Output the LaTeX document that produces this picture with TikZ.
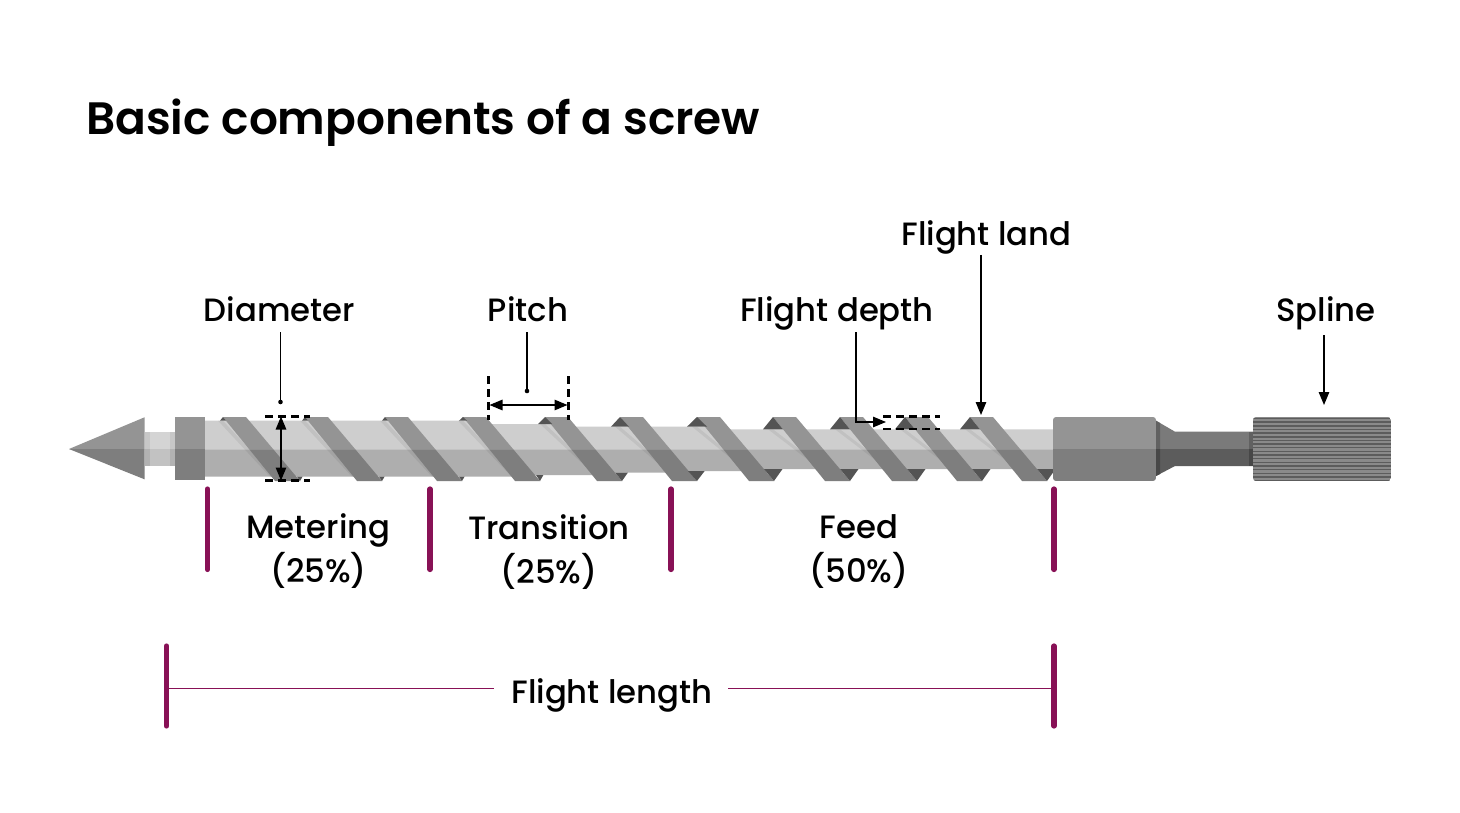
\documentclass[tikz,border=0pt]{standalone}
\usepackage{fontspec}
\setmainfont{Poppins Medium}
\newfontface\titlefont{Poppins SemiBold}
\usetikzlibrary{arrows.meta}
\definecolor{mag}{RGB}{136,17,86}
\definecolor{shU}{RGB}{206,206,206}
\definecolor{shL}{RGB}{174,174,174}
\definecolor{flU}{RGB}{148,148,148}
\definecolor{flL}{RGB}{126,126,126}
\definecolor{trD}{RGB}{84,84,84}
\tikzset{
 x=1pt,y=-1pt,
 lbl/.style={font=\fontsize{32.3}{44}\selectfont,align=center,inner sep=0pt,text=black},
 sl/.style={lbl,anchor=base},
 bar/.style={draw=mag,line width=5.2pt,line cap=round},
 thin mag/.style={draw=mag,line width=1.2pt},
 lead/.style={draw=black,line width=1.3pt},
 arr/.style={lead,-{Triangle[length=13pt,width=10.5pt]}},
 dbl/.style={lead,{Triangle[length=13pt,width=10.5pt]}-{Triangle[length=13pt,width=10.5pt]}},
 dash line/.style={draw=black,line width=2.2pt,dash pattern=on 8pt off 5pt},
}
\newcommand{\flight}[4]{% L, shaft top, shaft bottom, half base
 \fill[black,opacity=.06] (#1-5,#2)--(#1+47,#3)--(#1+52,#3)--(#1,#2)--cycle;
 \fill[flU] (#1,417)--(#1+23,417)--(#1+50.3,449.3)--(#1+26.3,449.3)--cycle;
 \fill[flL] (#1+26.3,449.3)--(#1+50.3,449.3)--(#1+77,481)--(#1+52,481)--cycle;
 \fill[trD] (#1-#4,#2)--(#1,417)--(#1+#4,#2)--cycle;
 \fill[trD] (#1+77-#4,#3)--(#1+77,481)--(#1+77+#4*0.85,#3)--cycle;
}
\begin{document}
\begin{tikzpicture}
\useasboundingbox (0,0) rectangle (1460,813);
\fill[white] (0,0) rectangle (1460,813);
% tip
\fill[flU] (69,449)--(144.5,417.3)--(144.5,449)--cycle;
\fill[flL] (69,449)--(144.5,479.3)--(144.5,449)--cycle;
\fill[black!22] (144.5,431.7) rectangle (175,449);
\fill[black!30] (144.5,449) rectangle (175,465.7);
\fill[black!17] (150,431.7) rectangle (170,449);
\fill[black!24] (150,449) rectangle (170,465.7);
\fill[flU] (175,417) rectangle (205,449);
\fill[flL] (175,449) rectangle (205,480);
% shaft (stepped, steps hidden behind the flights)
\fill[shU] (205,420.7)--(475,420.7)--(475,424)--(557,424)--(557,426.7)--(710,426.7)--(710,429.3)--(1054,429.3)--(1054,449.3)--(205,449.3)--cycle;
\fill[shL] (205,449.3)--(1054,449.3)--(1054,469)--(772,469)--(772,471)--(700,471)--(700,472.5)--(610,472.5)--(610,475)--(530,475)--(530,476.7)--(205,476.7)--cycle;
% flights
\flight{223}{420.7}{476.7}{3}
\flight{305}{420.7}{476.7}{3}
\flight{385}{420.7}{476.7}{3}
\flight{463}{420.7}{475}{4}
\flight{545}{424}{472.5}{7}
\flight{620}{426.7}{471}{9}
\flight{697}{426.7}{469}{10}
\flight{773}{429.3}{469}{10}
\flight{840}{429.3}{469}{10}
\flight{905}{429.3}{469}{10}
\flight{970}{429.3}{469}{10}
% hub
\begin{scope}
\clip[rounded corners=3pt] (1053,417) rectangle (1156,481);
\fill[flU] (1053,417) rectangle (1156,449);
\fill[flL] (1053,449) rectangle (1156,481);
\end{scope}
% neck
\fill[black!52] (1156,420.7)--(1175,431.7)--(1253,431.7)--(1253,449)--(1156,449)--cycle;
\fill[black!64] (1156,476)--(1175,466)--(1253,466)--(1253,449)--(1156,449)--cycle;
\fill[black!62] (1156,420.7)--(1160,423)--(1160,449)--(1156,449)--cycle;
\fill[black!72] (1156,476)--(1160,474)--(1160,449)--(1156,449)--cycle;
\fill[black!62] (1249,431.7) rectangle (1253,449);
\fill[black!72] (1249,449) rectangle (1253,466);
% spline
\begin{scope}
\clip[rounded corners=3pt] (1253,417) rectangle (1391,481);
\fill[black!46] (1253,417) rectangle (1391,481);
\foreach \k in {0,...,17} \draw[black!64,line width=1.5pt] (1253,418.5+\k*3.65)--(1391,418.5+\k*3.65);
\end{scope}
% annotations
\coordinate (dT) at (281,416.5); \coordinate (dB) at (281,480.5);
\coordinate (dA) at (280.5,332); \coordinate (dD) at (280.5,402);
\node[sl] (diam) at (279.5,322) {Diameter};
\draw[lead] (dA)--(dD); \fill (dD) circle (2.3pt);
\draw[dash line] (265,416.5)--(310,416.5);
\draw[dash line] (265,480.5)--(310,480.5);
\draw[dbl] (dT)--(dB);
\node[sl] (pitch) at (528,322) {Pitch};
\coordinate (pA) at (527,332); \coordinate (pD) at (527,391);
\draw[lead] (pA)--(pD); \fill (pD) circle (2.3pt);
\draw[dash line] (488.5,376)--(488.5,420);
\draw[dash line] (568.5,376)--(568.5,420);
\coordinate (pL) at (489.5,405); \coordinate (pR) at (567.5,405);
\draw[dbl] (pL)--(pR);
\node[sl] (depth) at (837,322) {Flight depth};
\coordinate (fdS) at (856,332); \coordinate (fdE) at (886,422);
\draw[arr] (fdS)|-(fdE);
\draw[dash line] (883,416.5)--(940,416.5);
\draw[dash line] (883,429)--(940,429);
\node[sl] (land) at (986.5,246) {Flight land};
\coordinate (flS) at (981,255); \coordinate (flE) at (981,415);
\draw[arr] (flS)--(flE);
\node[sl] (spl) at (1326,322) {Spline};
\coordinate (spS) at (1324,335); \coordinate (spE) at (1324,405);
\draw[arr] (spS)--(spE);
% section bars
\foreach \n/\xx in {a/207.5,b/430,c/671,d/1054}{
 \coordinate (\n T) at (\xx,489); \coordinate (\n B) at (\xx,569.5);
 \draw[bar] (\n T)--(\n B);}
\node[lbl] (met) at (318.5,551.5) {Metering\\(25\%)};
\node[lbl] (tra) at (549,552.5) {Transition\\(25\%)};
\node[lbl] (fee) at (859,551.5) {Feed\\(50\%)};
\coordinate (eT) at (166.5,646); \coordinate (eB) at (166.5,726);
\coordinate (fT) at (1054,646); \coordinate (fB) at (1054,726);
\draw[bar] (eT)--(eB); \draw[bar] (fT)--(fB);
\node[sl] (len) at (612,703) {Flight length};
\coordinate (eM) at (166.5,688.5); \coordinate (fM) at (1054,688.5);
\coordinate (lenL) at (494,688.5); \coordinate (lenR) at (728,688.5);
\draw[thin mag] (eM)--(lenL); \draw[thin mag] (lenR)--(fM);
\node[anchor=base west,inner sep=0pt,font=\titlefont\fontsize{45.4}{56}\selectfont] (title) at (86,135) {Basic components of a screw};
\end{tikzpicture}
\end{document}
